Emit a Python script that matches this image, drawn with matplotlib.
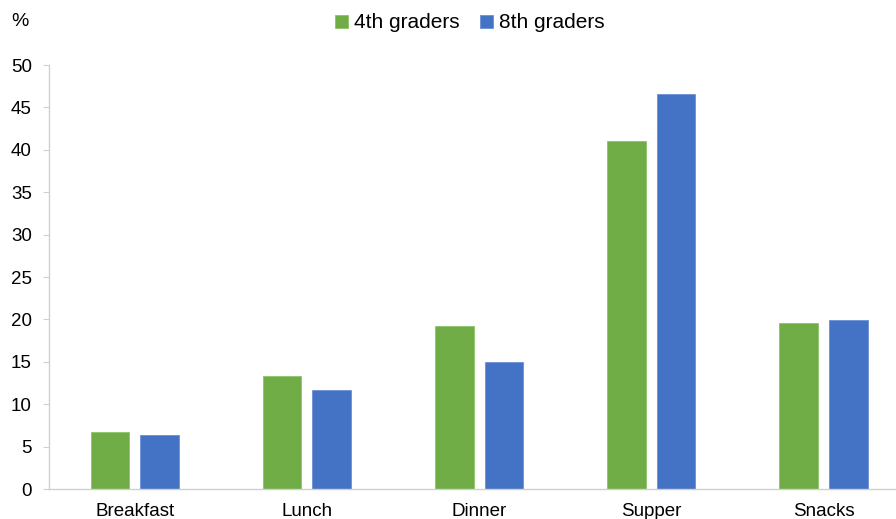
import matplotlib
matplotlib.use("Agg")
import matplotlib.pyplot as plt
import numpy as np

categories = ["Breakfast", "Lunch", "Dinner", "Supper", "Snacks"]
series_names = ["4th graders", "8th graders"]
grade4 = [6.7, 13.3, 19.25, 41.0, 19.6]
grade8 = [6.4, 11.7, 15.0, 46.6, 19.9]
yticks = [0, 5, 10, 15, 20, 25, 30, 35, 40, 45, 50]

green = "#70AD47"
blue = "#4472C4"

plt.rcParams['font.family'] = ['Liberation Sans', 'DejaVu Sans']

fig = plt.figure(figsize=(8.96, 5.19), dpi=100)
ax = fig.add_axes([48.6/896, 1-489/519, 861/896, (489-65)/519])

x = np.arange(len(categories))
w = 0.224
off = 0.1437
ax.bar(x - off, grade4, w, color=green, edgecolor="#8cc46a", linewidth=0.6, label=series_names[0])
ax.bar(x + off, grade8, w, color=blue, edgecolor="#6a90d6", linewidth=0.6, label=series_names[1])

ax.set_xlim(-0.5, 4.5)
ax.set_ylim(0, 50)
ax.set_yticks(yticks)
ax.set_yticklabels([str(t) for t in yticks])
ax.set_xticks(x)
ax.set_xticklabels(categories)

for s in ["top", "right"]:
    ax.spines[s].set_visible(False)
for s in ["left", "bottom"]:
    ax.spines[s].set_color("#d0d0d0")
    ax.spines[s].set_linewidth(1.0)

ax.tick_params(axis="y", length=4, color="#d0d0d0", labelsize=13.5, pad=8)
ax.tick_params(axis="x", length=0, labelsize=13.5, pad=10)

fig.text(20/896, 1-22/519, "%", fontsize=14, ha="center", va="center")

fig.legend(handles=ax.patches[:1] + ax.patches[5:6], labels=series_names,
           loc="center", bbox_to_anchor=(470/896, 1-23/519), ncol=2, frameon=False,
           fontsize=15, handlelength=0.6, handleheight=0.6, handletextpad=0.3,
           columnspacing=1.0)

fig.savefig("out.png", dpi=100)
